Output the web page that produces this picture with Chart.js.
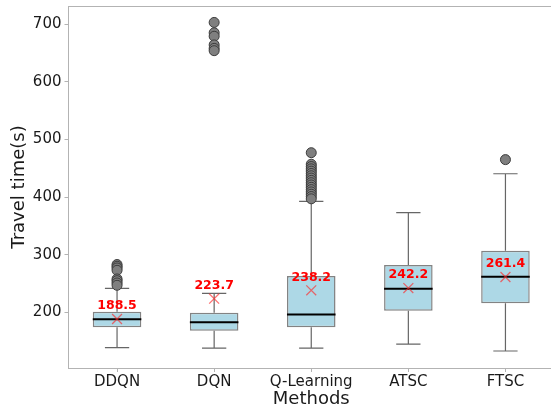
<!DOCTYPE html>
<html>
<head>
<meta charset="utf-8">
<script src="https://cdn.jsdelivr.net/npm/chart.js@4.4.1/dist/chart.umd.min.js"></script>
<style>
  html, body { margin: 0; padding: 0; background: #fff; overflow: hidden; }
  #wrap { width: 554px; height: 410px; }
</style>
</head>
<body>
<div id="wrap"><canvas id="c" width="554" height="410"></canvas></div>
<script>
// Travel-time distribution per signal control method (seconds)
const methods = ['DDQN', 'DQN', 'Q-Learning', 'ATSC', 'FTSC'];
const whiskerLow  = [139, 138, 138, 145, 133];
const q1          = [174, 168, 174, 203, 216];
const medians     = [188, 183, 196.5, 241, 262];
const q3          = [201, 199.5, 263, 282, 307];
const whiskerHigh = [241.5, 233, 392.5, 373, 440.5];
const means       = [188.5, 223.7, 238.2, 242.2, 261.4];

const outliersDDQN  = [283, 280, 277, 273, 258, 255, 251, 247];
const outliersDQN   = [703, 685, 679, 664, 658, 654];
const outliersQL    = [477, 457, 453, 449, 445, 441, 437, 433, 429, 425, 421, 417, 413, 409, 405, 401, 397];
const outliersATSC  = [];
const outliersFTSC  = [465];

const yTicks = [200, 300, 400, 500, 600, 700];
const yMin = 103.5, yMax = 731.5;

const FONT = 'DejaVu Sans';
const SPINE = '#b3b3b3';
const TEXT = '#1a1a1a';

const outlierGroups = [outliersDDQN, outliersDQN, outliersQL, outliersATSC, outliersFTSC];
const outlierPoints = [];
outlierGroups.forEach((g, i) => g.forEach(v => outlierPoints.push({ x: methods[i], y: v })));

// Whiskers, caps, medians and mean labels drawn through the chart scales
const boxExtras = {
  id: 'boxExtras',
  beforeDatasetsDraw(chart) {
    const { ctx, scales: { x, y } } = chart;
    const catW = x.getPixelForValue(1) - x.getPixelForValue(0);
    const capHalf = catW * 0.125;
    ctx.save();
    ctx.strokeStyle = '#666666';
    ctx.lineWidth = 1.2;
    methods.forEach((m, i) => {
      const px = x.getPixelForValue(i);
      ctx.beginPath();
      ctx.moveTo(px, y.getPixelForValue(whiskerLow[i]));
      ctx.lineTo(px, y.getPixelForValue(q1[i]));
      ctx.moveTo(px, y.getPixelForValue(q3[i]));
      ctx.lineTo(px, y.getPixelForValue(whiskerHigh[i]));
      const yl = y.getPixelForValue(whiskerLow[i]);
      const yh = y.getPixelForValue(whiskerHigh[i]);
      ctx.moveTo(px - capHalf, yl); ctx.lineTo(px + capHalf, yl);
      ctx.moveTo(px - capHalf, yh); ctx.lineTo(px + capHalf, yh);
      ctx.stroke();
    });
    ctx.restore();
  },
  afterDatasetDraw(chart, args) {
    if (args.index !== 0) return;
    const { ctx, scales: { x, y } } = chart;
    const catW = x.getPixelForValue(1) - x.getPixelForValue(0);
    const half = catW * 0.25;
    ctx.save();
    ctx.strokeStyle = '#000';
    ctx.lineWidth = 2;
    methods.forEach((m, i) => {
      const px = x.getPixelForValue(i);
      const py = y.getPixelForValue(medians[i]);
      ctx.beginPath();
      ctx.moveTo(px - half, py);
      ctx.lineTo(px + half, py);
      ctx.stroke();
    });
    ctx.restore();
  },
  afterDatasetsDraw(chart) {
    const { ctx, chartArea, scales: { x, y } } = chart;
    ctx.save();
    ctx.font = 'bold 12.5px "' + FONT + '"';
    ctx.fillStyle = '#ff0000';
    ctx.textAlign = 'center';
    ctx.textBaseline = 'middle';
    methods.forEach((m, i) => {
      ctx.fillText(means[i].toFixed(1), x.getPixelForValue(i), y.getPixelForValue(means[i]) - 13);
    });
    // top spine
    ctx.strokeStyle = SPINE;
    ctx.lineWidth = 1;
    ctx.beginPath();
    ctx.moveTo(chartArea.left, chartArea.top + 0.5);
    ctx.lineTo(chartArea.right, chartArea.top + 0.5);
    ctx.stroke();
    ctx.restore();
  }
};

new Chart(document.getElementById('c'), {
  data: {
    labels: methods,
    datasets: [
      {
        type: 'bar',
        label: 'IQR',
        data: methods.map((m, i) => [q1[i], q3[i]]),
        backgroundColor: '#add8e6',
        borderColor: 'rgba(90,90,90,0.75)',
        borderWidth: 1.5,
        borderSkipped: false,
        barPercentage: 0.5,
        categoryPercentage: 1,
        order: 3
      },
      {
        type: 'line',
        label: 'Outliers',
        data: outlierPoints,
        showLine: false,
        clip: false,
        pointStyle: 'circle',
        pointRadius: 5,
        pointHoverRadius: 5,
        pointBackgroundColor: '#7f7f7f',
        pointBorderColor: '#3c3c3c',
        pointBorderWidth: 1,
        order: 2
      },
      {
        type: 'line',
        label: 'Mean',
        data: means,
        showLine: false,
        clip: false,
        pointStyle: 'crossRot',
        pointRadius: 7,
        pointHoverRadius: 7,
        pointBorderColor: 'rgba(255,40,40,0.65)',
        pointBorderWidth: 1.3,
        order: 1
      }
    ]
  },
  options: {
    responsive: false,
    animation: false,
    layout: { autoPadding: false, padding: { top: 6, right: 0, left: 0, bottom: 0 } },
    plugins: { legend: { display: false }, tooltip: { enabled: false } },
    scales: {
      x: {
        type: 'category',
        offset: true,
        grid: { offset: false, drawOnChartArea: false, tickLength: 4, color: SPINE },
        border: { color: SPINE, width: 1 },
        ticks: { font: { family: FONT, size: 15 }, color: TEXT, padding: 1 },
        title: { display: true, text: 'Methods', font: { family: FONT, size: 18 }, color: TEXT, padding: 0 },
        afterFit(s) { s.height = 42; s.paddingLeft = 0; s.paddingRight = 0; }
      },
      y: {
        type: 'linear',
        min: yMin,
        max: yMax,
        afterBuildTicks(s) { s.ticks = yTicks.map(v => ({ value: v })); },
        grid: { drawOnChartArea: false, tickLength: 4, color: SPINE },
        border: { color: SPINE, width: 1 },
        ticks: { font: { family: FONT, size: 15 }, color: TEXT, padding: 3 },
        title: { display: true, text: 'Travel time(s)', font: { family: FONT, size: 18 }, color: TEXT, padding: { top: 9, bottom: 0 } },
        afterFit(s) { s.width = 68.5; s.paddingTop = 0; s.paddingBottom = 0; }
      }
    }
  },
  plugins: [boxExtras]
});
</script>
</body>
</html>
